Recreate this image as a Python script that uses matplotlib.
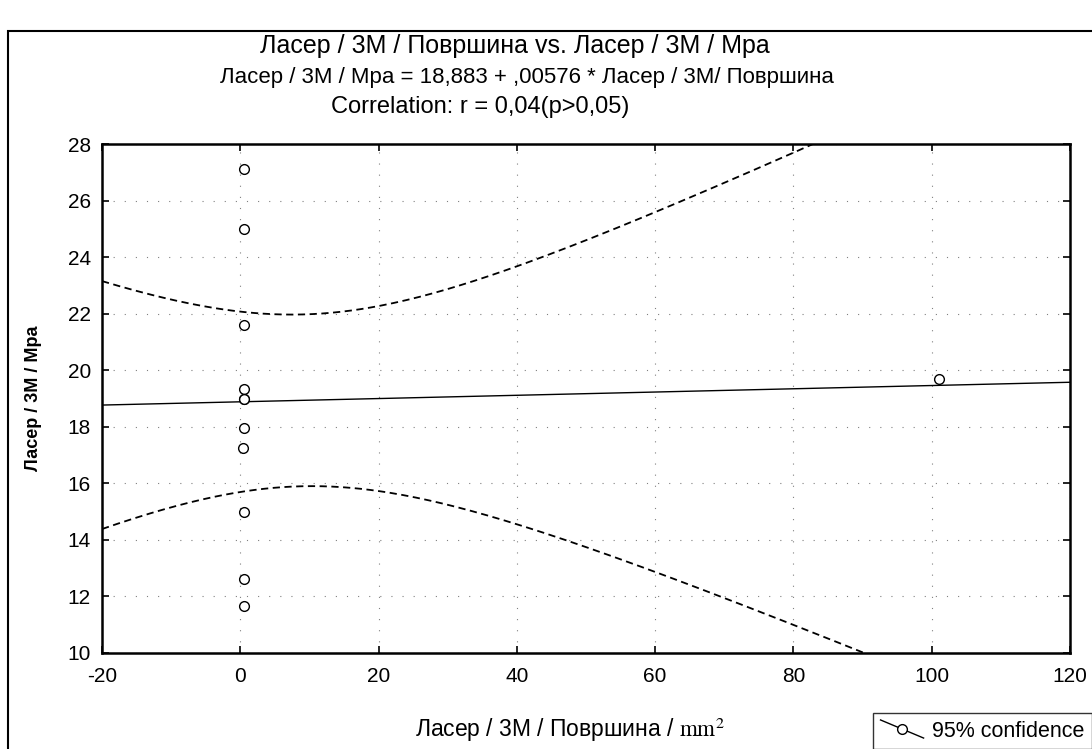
import numpy as np
import matplotlib
matplotlib.use("Agg")
import matplotlib.pyplot as plt
from matplotlib.lines import Line2D
from matplotlib.patches import Rectangle
from matplotlib.legend_handler import HandlerBase

plt.rcParams['font.family'] = ['Liberation Sans', 'DejaVu Sans']
plt.rcParams['mathtext.fontset'] = 'stix'
plt.rcParams['axes.unicode_minus'] = False

# data (two circles overlap near 19)
povrsina = [0.5, 0.5, 0.5, 0.5, 0.6, 0.6, 0.6, 0.4, 0.5, 0.6, 0.5, 101.0]
mpa = [27.1, 25.0, 21.6, 19.35, 19.0, 19.0, 17.95, 17.25, 15.0, 12.6, 11.65, 19.7]

# regression as printed on the chart
b0 = 18.883
b1 = 0.00576
t_crit = 2.228  # t(0.975, df=10)

x = np.array(povrsina)
y = np.array(mpa)
n = len(x)
resid = y - (b0 + b1 * x)
s = np.sqrt(np.sum(resid ** 2) / (n - 2))
xbar = x.mean()
sxx = np.sum((x - xbar) ** 2)

xx = np.linspace(-20, 120, 300)
fit = b0 + b1 * xx
half = t_crit * s * np.sqrt(1.0 / n + (xx - xbar) ** 2 / sxx)


class SlantHandler(HandlerBase):
    # statistica draws the legend key as a slanted line through a circle
    def create_artists(self, legend, orig, xd, yd, w, h, fs, trans):
        ln = Line2D([xd, xd + w], [yd + h * 1.1, yd - h * 0.1], color='black', lw=1.0,
                    transform=trans)
        mk = Line2D([xd + w * 0.5], [yd + h * 0.5], marker='o', mfc='white',
                    mec='black', ms=7, ls='none', transform=trans)
        return [ln, mk]


fig = plt.figure(figsize=(10.92, 7.49), dpi=100)
ax = fig.add_axes([102 / 1092, 1 - 653 / 749, (1070 - 102) / 1092, (653 - 144) / 749])

ax.plot(xx, fit, color='black', lw=1.0)
ax.plot(xx, fit + half, color='black', lw=1.3, dashes=(4, 2.5))
ax.plot(xx, fit - half, color='black', lw=1.3, dashes=(4, 2.5))
ax.plot(x, y, 'o', mfc='white', mec='black', mew=1.0, ms=7, zorder=5)

ax.set_xlim(-20, 120)
ax.set_ylim(10, 28)
ax.set_xticks(np.arange(-20, 121, 20))
ax.set_yticks(np.arange(10, 29, 2))
ax.grid(True, color='0.5', lw=0.8, linestyle=(0, (1, 9)))
ax.tick_params(direction='in', top=True, right=True, length=5, width=1.2,
               labelsize=15)
ax.tick_params(axis='x', pad=10)
ax.tick_params(axis='y', pad=8)
for sp in ax.spines.values():
    sp.set_linewidth(1.8)

ax.set_ylabel('Ласер / 3M / Мра', fontsize=13, fontweight='bold')
ax.yaxis.set_label_coords(-0.062, 0.5)
fig.text(570 / 1092, 1 - 730 / 749, 'Ласер / 3M / Површина / $\\mathrm{mm}^2$',
         ha='center', va='center', fontsize=16.5)

fig.text(515 / 1092, 1 - 46 / 749, 'Ласер / 3M / Површина vs. Ласер / 3M / Мра',
         ha='center', va='center', fontsize=18)
fig.text(527 / 1092, 1 - 77 / 749, 'Ласер / 3M / Мра = 18,883 + ,00576 * Ласер / 3M/ Површина',
         ha='center', va='center', fontsize=16)
fig.text(480 / 1092, 1 - 107 / 749, 'Correlation: r = 0,04(p>0,05)',
         ha='center', va='center', fontsize=17)

# outer frame of the original figure, running off the page
fig.patches.append(Rectangle((8 / 1092, -0.1), 1.2, 1 - 31 / 749 + 0.1,
                             transform=fig.transFigure, fill=False,
                             lw=1.5, ec='black'))

h = Line2D([0], [0], color='black')
fig.legend([h], ['95% confidence'], loc='upper left', handler_map={h: SlantHandler()},
           bbox_to_anchor=(873 / 1092, 1 - 713 / 749), fontsize=15.5,
           frameon=True, fancybox=False, edgecolor='black', borderpad=0.35,
           handlelength=2.0, handletextpad=0.4, borderaxespad=0)

fig.savefig('out.png', dpi=100)
